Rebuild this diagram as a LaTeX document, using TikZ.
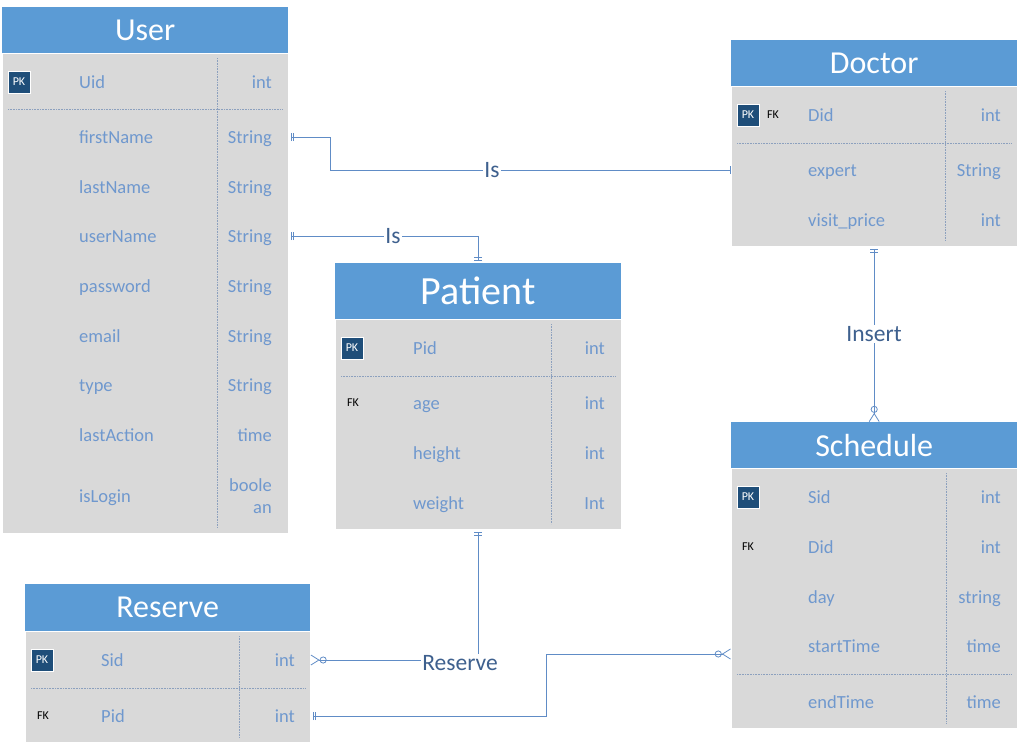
\documentclass[tikz,border=0pt]{standalone}
\usepackage{fontspec}
\setmainfont{Carlito}
\usetikzlibrary{arrows.meta,positioning}

\definecolor{headblue}{RGB}{91,155,213}
\definecolor{bodygray}{RGB}{217,217,217}
\definecolor{fieldblue}{RGB}{111,152,206}
\definecolor{pkblue}{RGB}{31,78,121}
\definecolor{linkblue}{RGB}{96,140,198}
\definecolor{labelblue}{RGB}{62,96,142}
\definecolor{divgray}{RGB}{140,160,190}

\tikzset{
  mone/.tip={Bar[width=8pt,sep=2pt] Bar[width=8pt,sep=2pt]},
  sone/.tip={Bar[width=8pt]},
  zmany/.tip={Circle[open,length=7pt,width=7pt,sep=0pt] Straight Barb[reversed,length=8pt,width=10pt]},
}

\begin{document}
\begin{tikzpicture}[
x=1pt, y=-1pt,
head/.style={fill=headblue, text=white, anchor=north west, inner sep=0pt,
    font=\fontsize{32}{32}\selectfont},
body/.style={fill=bodygray, draw=white, line width=0.6pt, inner sep=0pt},
field/.style={text=fieldblue, anchor=west, inner sep=0pt,
    text height=13pt, text depth=1pt, font=\fontsize{18.5}{18.5}\selectfont},
ftype/.style={text=fieldblue, anchor=east, inner sep=0pt,
    text height=13pt, text depth=1pt, font=\fontsize{18.5}{18.5}\selectfont},
pk/.style={fill=pkblue, draw=white, line width=0.8pt, text=white,
    minimum size=22pt, inner sep=0pt, font=\fontsize{12}{12}\selectfont},
fk/.style={inner sep=0pt, font=\fontsize{12}{12}\selectfont},
divline/.style={draw=divgray, densely dotted, line width=0.6pt},
rel/.style={draw=linkblue, line width=0.8pt},
rlabel/.style={fill=white, text=labelblue, inner sep=1pt,
    font=\fontsize{23.5}{23.5}\selectfont},
]
\useasboundingbox (0,0) rectangle (1019,745);

% User
\node[head, minimum width=286, minimum height=46] (user) at (2,7) {User};
\node[body, minimum width=286, minimum height=480, below=0pt of user] (userb) {};
\draw[divline] (217,58) -- (217,528);
\draw[divline] (8,109) -- (283,109);
\node[pk] (user-pk) at (19,82) {PK};
\foreach \y/\f/\t in {82/Uid/int, 137/firstName/String, 187/lastName/String,
    236/userName/String, 286/password/String, 336/email/String,
    385/type/String, 435/lastAction/time}
{
  \node[field] (user-\f) at (79,\y) {\f};
  \node[ftype] (user-\f-t) at (272,\y) {\t};
}
\node[field] (user-isLogin) at (79,496) {isLogin};
\node[text=fieldblue, anchor=east, inner sep=0pt, align=right,
  font=\fontsize{18.5}{22}\selectfont] (user-isLogin-t) at (272,496) {boole\\an};

% Doctor
\node[head, minimum width=286, minimum height=46] (doctor) at (731,40) {Doctor};
\node[body, minimum width=286, minimum height=160, below=0pt of doctor] (doctorb) {};
\draw[divline] (945,91) -- (945,241);
\draw[divline] (737,143) -- (1012,143);
\node[pk] (doctor-pk) at (748,115) {PK};
\node[fk] (doctor-fk) at (773,115) {FK};
\foreach \y/\f/\t in {115/Did/int, 170/expert/String, 220/visit\_price/int}
{
  \node[field] (doctor-\y) at (808,\y) {\f};
  \node[ftype] (doctor-\y-t) at (1001,\y) {\t};
}

% Patient
\node[head, minimum width=286, minimum height=56,
  font=\fontsize{40}{40}\selectfont] (patient) at (335,263) {Patient};
\node[body, minimum width=286, minimum height=210, below=0pt of patient] (patientb) {};
\draw[divline] (551,324) -- (551,524);
\draw[divline] (341,376) -- (616,376);
\node[pk] (patient-pk) at (352,348) {PK};
\node[fk] (patient-fk) at (353,403) {FK};
\foreach \y/\f/\t in {348/Pid/int, 403/age/int, 453/height/int, 503/weight/Int}
{
  \node[field] (patient-\f) at (413,\y) {\f};
  \node[ftype] (patient-\f-t) at (605,\y) {\t};
}

% Schedule
\node[head, minimum width=286, minimum height=46] (schedule) at (731,422) {Schedule};
\node[body, minimum width=286, minimum height=260, below=0pt of schedule] (scheduleb) {};
\draw[divline] (946,473) -- (946,723);
\draw[divline] (737,674) -- (1012,674);
\node[pk] (schedule-pk) at (748,497) {PK};
\node[fk] (schedule-fk) at (748,547) {FK};
\foreach \y/\f/\t in {497/Sid/int, 547/Did/int, 597/day/string,
    646/startTime/time, 702/endTime/time}
{
  \node[field] (schedule-\f) at (808,\y) {\f};
  \node[ftype] (schedule-\f-t) at (1001,\y) {\t};
}

% Reserve
\node[head, minimum width=285, minimum height=47] (reserve) at (25,584) {Reserve};
\node[body, minimum width=285, minimum height=111, below=0pt of reserve] (reserveb) {};
\draw[divline] (239,636) -- (239,738);
\draw[divline] (31,688) -- (305,688);
\node[pk] (reserve-pk) at (42,660) {PK};
\node[fk] (reserve-fk) at (43,716) {FK};
\foreach \y/\f/\t in {660/Sid/int, 716/Pid/int}
{
  \node[field] (reserve-\f) at (101,\y) {\f};
  \node[ftype] (reserve-\f-t) at (295,\y) {\t};
}

% relations
\draw[rel, {mone}-{sone}] (userb.east |- user-firstName-t) -- ++(42,0)
  |- (doctorb.west |- doctor-170);
\node[rlabel] (is-doctor) at (492,170) {Is};

\draw[rel, {mone}-{mone}] (userb.east |- user-userName-t) -| (patient.north);
\node[rlabel] (is-patient) at (393,236) {Is};

\draw[rel, {mone}-{zmany}] (doctorb.south) -- (schedule.north);
\node[rlabel] (insert) at (874,334) {Insert};

\draw[rel, {mone}-{zmany}] (patientb.south) |- (reserveb.east |- reserve-Sid-t);
\node[rlabel] (reserve-rel) at (460,663) {Reserve};

\draw[rel, {mone}-{zmany}] (reserveb.east |- reserve-Pid-t) -- ++(236,0)
  |- ([yshift=-8pt]schedule-startTime-t.west -| scheduleb.west);

\end{tikzpicture}
\end{document}
